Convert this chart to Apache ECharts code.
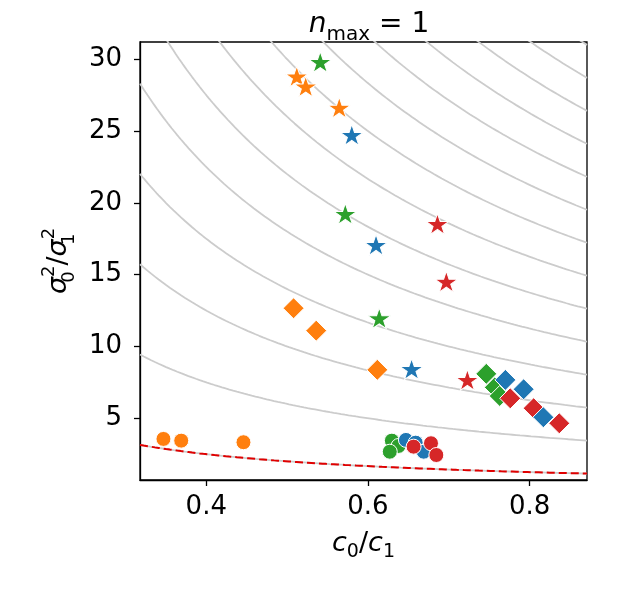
<!DOCTYPE html>
<html>
<head>
<meta charset="utf-8">
<script src="https://cdn.jsdelivr.net/npm/echarts@6/dist/echarts.min.js"></script>
<style>
html,body{margin:0;padding:0;background:#fff;}
#chart{width:630px;height:600px;}
</style>
</head>
<body>
<div id="chart"></div>
<script>
// ---- axis settings ----
const xTicks = [0.4, 0.6, 0.8];
const yTicks = [5, 10, 15, 20, 25, 30];
const xRange = [0.318, 0.871];
const yRange = [0.7, 31.2];

// ---- reference curves y = k / x ----
const greyLevels = [1, 3, 5, 7, 9, 11, 13, 15, 17, 19, 21, 23, 25, 27];
const boundLevel = 1;

// ---- stars ----
const starBlueX = [0.580, 0.610, 0.654];
const starBlueY = [24.73, 17.07, 8.43];
const starOrangeX = [0.512, 0.523, 0.5645];
const starOrangeY = [28.8, 28.1, 26.63];
const starGreenX = [0.541, 0.572, 0.614];
const starGreenY = [29.81, 19.23, 11.96];
const starRedX = [0.686, 0.697, 0.723];
const starRedY = [18.53, 14.51, 7.67];

// ---- diamonds ----
const diaOrangeX = [0.508, 0.536, 0.6116];
const diaOrangeY = [12.66, 11.1, 8.37];
const diaGreenX = [0.7464, 0.757, 0.763];
const diaGreenY = [8.09, 7.15, 6.55];
const diaRedX = [0.776, 0.805, 0.8367];
const diaRedY = [6.39, 5.70, 4.65];
const diaBlueX = [0.770, 0.7926, 0.817];
const diaBlueY = [7.67, 7.02, 5.07];

// ---- circles ----
const cirOrangeX = [0.347, 0.369, 0.446];
const cirOrangeY = [3.56, 3.44, 3.33];
const cirGreenX = [0.6296, 0.6378, 0.627];
const cirGreenY = [3.44, 3.07, 2.67];
const cirBlueX = [0.647, 0.659, 0.669];
const cirBlueY = [3.49, 3.30, 2.67];
const cirRedX = [0.6565, 0.678, 0.6846];
const cirRedY = [3.02, 3.26, 2.44];

const C = {blue:'#1f77b4', orange:'#ff7f0e', green:'#2ca02c', red:'#d62728'};

function pairs(xs, ys){ return xs.map((x,i)=>[x, ys[i]]); }

// star symbol path (shape only)
function starPath(){
  let d = '';
  for (let i = 0; i < 10; i++){
    const r = (i % 2 === 0) ? 1 : 0.381966;
    const a = -Math.PI/2 + i*Math.PI/5;
    const px = (r*Math.cos(a)).toFixed(4), py = (r*Math.sin(a)).toFixed(4);
    d += (i === 0 ? 'M' : 'L') + px + ' ' + py + ' ';
  }
  return 'path://' + d + 'Z';
}
const STAR = starPath();

function curve(k){
  const pts = [];
  const n = 240;
  for (let i = 0; i <= n; i++){
    const x = xRange[0] + (xRange[1]-xRange[0])*i/n;
    pts.push([x, k/x]);
  }
  return pts;
}

const series = [];
greyLevels.forEach(k => {
  series.push({type:'line', data: curve(k), showSymbol:false, silent:true, z:1,
    lineStyle:{color:'#cccccc', width:1.8}, animation:false});
});
series.push({type:'line', data: curve(boundLevel), showSymbol:false, silent:true, z:2,
  lineStyle:{color:'#e00000', width:2, type:[8,4]}, animation:false});

function scat(xs, ys, color, symbol, size, z){
  series.push({type:'scatter', data: pairs(xs, ys), symbol: symbol, symbolSize: size,
    symbolKeepAspect: true, z: z, animation:false,
    itemStyle:{color: color, borderColor:'#ffffff', borderWidth:1, opacity:1}});
}
// stars
scat(starBlueX, starBlueY, C.blue, STAR, [23,22], 3);
scat(starOrangeX, starOrangeY, C.orange, STAR, [23,22], 3);
scat(starGreenX, starGreenY, C.green, STAR, [23,22], 3);
scat(starRedX, starRedY, C.red, STAR, [23,22], 3);
// diamonds
scat(diaOrangeX, diaOrangeY, C.orange, 'diamond', 21, 3);
scat(diaGreenX, diaGreenY, C.green, 'diamond', 21, 3);
scat(diaRedX, diaRedY, C.red, 'diamond', 21, 3);
scat(diaBlueX, diaBlueY, C.blue, 'diamond', 21, 3);
// circles
scat(cirOrangeX, cirOrangeY, C.orange, 'circle', 15, 3);
scat(cirGreenX, cirGreenY, C.green, 'circle', 15, 3);
scat(cirBlueX, cirBlueY, C.blue, 'circle', 15, 3);
scat(cirRedX, cirRedY, C.red, 'circle', 15, 3);

const FONT = 'DejaVu Sans';
function mainTok(sz, lh, italic){
  return {fontFamily:FONT, fontStyle: italic ? 'italic' : 'normal', fontWeight:'normal',
    fontSize:sz, color:'#000', lineHeight:lh, verticalAlign:'middle'};
}
function subTok(sz, stack){
  const t = {fontFamily:FONT, fontWeight:'normal', fontSize:sz, color:'#000', lineHeight:sz, verticalAlign:'bottom'};
  if (stack){ t.width = 0.01; t.align = 'left'; }
  return t;
}
function supTok(sz){
  return {fontFamily:FONT, fontWeight:'normal', fontSize:sz, color:'#000', lineHeight:sz, verticalAlign:'top'};
}

const chart = echarts.init(document.getElementById('chart'), null, {renderer:'canvas'});
chart.setOption({
  backgroundColor:'#ffffff',
  title:{
    text:'{i|n}{s|max}{n| = 1}',
    left: 364, top: 0, textAlign:'center',
    textStyle:{
      fontWeight:'normal',
      rich:{
        i: mainTok(28, 40, true),
        s: subTok(20, false),
        n: mainTok(28, 40, false)
      }
    }
  },
  grid:{left:140, right:43, top:42, bottom:120, show:true, borderColor:'#000', borderWidth:1.3, containLabel:false},
  xAxis:{
    type:'value', min:xRange[0], max:xRange[1],
    name:'{i|c}{s|0}{n|/}{i|c}{s|1}', nameLocation:'middle', nameGap:46,
    nameTextStyle:{
      rich:{
        i: mainTok(27, 36, true),
        s: subTok(19, false),
        n: mainTok(27, 36, false)
      }
    },
    axisLine:{show:true, onZero:false, lineStyle:{color:'#000', width:1.3}},
    axisTick:{show:true, length:6, lineStyle:{color:'#000', width:1.3}, customValues: xTicks},
    axisLabel:{show:true, fontFamily:FONT, fontSize:26, color:'#000', margin:14,
      customValues: xTicks, formatter: v => v.toFixed(1)},
    splitLine:{show:false}
  },
  yAxis:{
    type:'value', min:yRange[0], max:yRange[1],
    name:'{i|σ}{s|0}{p|2}{n|/}{i|σ}{s|1}{p|2}', nameLocation:'middle', nameGap:62, nameRotate:90,
    nameTextStyle:{
      rich:{
        i: mainTok(27, 38, true),
        s: subTok(18, true),
        p: supTok(18),
        n: mainTok(27, 38, false)
      }
    },
    axisLine:{show:true, onZero:false, lineStyle:{color:'#000', width:1.3}},
    axisTick:{show:true, length:6, lineStyle:{color:'#000', width:1.3}, customValues: yTicks},
    axisLabel:{show:true, fontFamily:FONT, fontSize:26, color:'#000', margin:18,
      customValues: yTicks, formatter: v => String(v)},
    splitLine:{show:false}
  },
  series: series
});
</script>
</body>
</html>
